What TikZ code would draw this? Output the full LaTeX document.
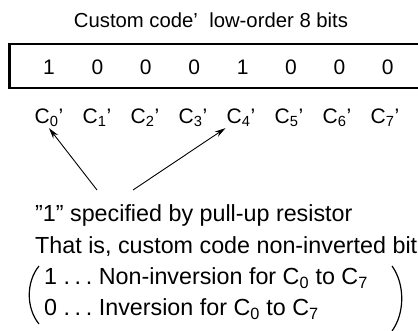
\documentclass[tikz,border=0pt]{standalone}
\usepackage{fontspec}
\setmainfont{Liberation Sans}
\usetikzlibrary{arrows.meta}
\newcommand{\cbit}[1]{C\textsubscript{#1}’}
\newcommand{\ddd}{.\hspace{0.2em}.\hspace{0.2em}.}

\begin{document}
\begin{tikzpicture}[x=1pt,y=-1pt,
    every node/.style={inner sep=1pt},
    bodytxt/.style={anchor=west,font=\fontsize{23.3}{27}\selectfont},
    bitlbl/.style={font=\fontsize{21}{24}\selectfont},
    ptr/.style={-{Stealth[length=11pt,width=6pt]},line width=0.9pt}]
    \useasboundingbox (0,0) rectangle (418,331);
    \node[font=\fontsize{20.3}{24}\selectfont] (title) at (211,20) {Custom code’\ \ low-order 8 bits};
    % register box, open to the right
    \coordinate (bx0) at (9,44);
    \coordinate (bx1) at (9,88);
    \draw[line width=1.5pt] (420,44) -- (bx0) -- (bx1) -- (420,88);
    \draw[line width=3pt] (bx0) -- (bx1);
    \foreach \b [count=\i from 0] in {1,0,0,0,1,0,0,0}
      \node[bitlbl] (b\i) at ({49+48.4*\i},67) {\b};
    \foreach \i in {0,...,7}
      \node[bitlbl] (c\i) at ({49+48*\i},118) {\cbit{\i}};
    \node[bodytxt] (l1) at (34,215) {''1'' specified by pull-up resistor};
    \node[bodytxt] (l2) at (34,247) {That is, custom code non-inverted bit};
    \node[bodytxt] (l3) at (43,278) {1 \ddd\ Non-inversion for C\textsubscript{0} to C\textsubscript{7}};
    \node[bodytxt] (l4) at (43,309) {0 \ddd\ Inversion for C\textsubscript{0} to C\textsubscript{7}};
    % arrows from the note up to the pulled-up bits
    \coordinate (t0) at (97,190);
    \coordinate (t4) at (133,190);
    \draw[ptr] (t0) -- (c0.south);
    \draw[ptr] (t4) -- (c4.south west);
    % parentheses round the two cases
    \coordinate (lpa) at (39,266);
    \coordinate (lpb) at (39,324);
    \coordinate (rpa) at (392,266);
    \coordinate (rpb) at (392,331);
    \draw[line width=1.2pt] (lpa) .. controls (26,282) and (26,308) .. (lpb);
    \draw[line width=1.2pt] (rpa) .. controls (405,284) and (405,313) .. (rpb);
\end{tikzpicture}
\end{document}
